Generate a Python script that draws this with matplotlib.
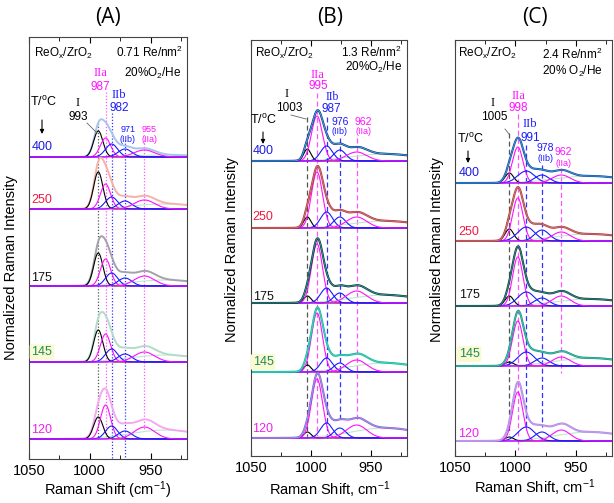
import numpy as np
import matplotlib.pyplot as plt
from matplotlib.ticker import MultipleLocator

plt.rcParams['font.family'] = ['Liberation Sans', 'DejaVu Sans']
plt.rcParams['mathtext.fontset'] = 'custom'
plt.rcParams['mathtext.rm'] = 'Liberation Sans'
plt.rcParams['mathtext.it'] = 'Liberation Sans:italic'

W, H = 614, 503

# temperatures (top to bottom)
temps = ['400', '250', '175', '145', '120']
temp_colors = ['#1c1ce0', '#f01840', '#111111', '#1f8a5a', '#f020f0']

# band order: I, IIa, IIb, IIb (2nd), IIa (2nd)
band_colors = ['#000000', '#ff10ff', '#1a1aff', '#1a1aff', '#ff10ff']
vline_colors = ['#555555', '#ff55ff', '#3333ff', '#3333ff', '#ff55ff']

# (A) 0.71 Re/nm2
a_pos = [993, 987, 982, 971, 955]
a_sig = [3.8, 4.2, 5.0, 5.6, 8.5]
a_I = [26, 37, 33, 32, 22]
a_IIa = [19, 25, 27, 28, 34]
a_IIb = [13, 12, 13, 13, 13]
a_IIb2 = [8, 8, 8, 8, 8]
a_IIa2 = [7, 9, 10, 10, 12]
a_bg = [2, 5, 6, 7, 9]

# (B) 1.3 Re/nm2
b_pos = [1003, 995, 987, 976, 962]
b_sig = [3.0, 4.6, 5.0, 5.0, 8.5]
b_I = [12, 11, 7, 7, 6]
b_IIa = [45, 56, 59, 59, 59]
b_IIb = [15, 16, 15, 14, 15]
b_IIb2 = [11, 11, 10, 9, 10]
b_IIa2 = [9, 11, 12, 12, 13]
b_bg = [7, 7, 8, 9, 10]

# (C) 2.4 Re/nm2
c_pos = [1005, 998, 991, 978, 962]
c_sig = [3.5, 4.3, 7.0, 6.0, 7.5]
c_I = [10, 12, 10, 4, 4]
c_IIa = [36, 43, 49, 45, 49]
c_IIb = [12, 14, 14, 14, 14]
c_IIb2 = [8, 11, 8, 8, 9]
c_IIa2 = [8, 9, 10, 9, 11]
c_bg = [7, 7, 7, 8, 9]

bg_pos, bg_sig = 938, 28

a_total_col = ['#a9c4ee', '#f5b3a8', '#a2a2ac', '#b2dcc8', '#f7a6f0']
b_data_col = ['#1c1c9a', '#e8161c', '#0e2a2a', '#17b39a', '#f025e8']
b_fit_col = ['#30b8c0', '#909090', '#2a9a9a', '#40d0c0', '#30d0d0']
c_data_col = ['#1f3cc0', '#e02020', '#163838', '#168f78', '#b48ae0']
c_fit_col = ['#30a0b0', '#909090', '#2a8a8a', '#40c0b0', '#c0a0f0']


def band(x, c, h, s):
    return h * np.exp(-0.5 * ((x - c) / s) ** 2)


def ftext(x, y, s, **kw):
    fig.text(x / W, 1 - y / H, s, ha=kw.pop('ha', 'center'), va='center', **kw)


x = np.linspace(920, 1050, 700)
fig = plt.figure(figsize=(W / 100, H / 100), dpi=100)

panels = [
    dict(box=(29, 37, 187, 459), pos=a_pos, sig=a_sig, h=[a_I, a_IIa, a_IIb, a_IIb2, a_IIa2], bg=a_bg,
         base=[157, 209, 286, 362, 439], tl=(42, [147, 200, 278, 352, 430]),
         vl=([123, 92, 113, 140, 140], [439, 439, 459, 459, 430]), ls=(0, (1, 1.5)),
         data=a_total_col, fit=None),
    dict(box=(251, 40, 407, 456), pos=b_pos, sig=b_sig, h=[b_I, b_IIa, b_IIb, b_IIb2, b_IIa2], bg=b_bg,
         base=[161, 228, 303, 372, 438], tl=(263, [151, 217, 297, 362, 429]),
         vl=([117, 93, 117, 138, 138], [438, 438, 438, 422, 422]), ls=(0, (4, 2.5)),
         data=b_data_col, fit=b_fit_col),
    dict(box=(455, 40, 612, 456), pos=c_pos, sig=c_sig, h=[c_I, c_IIa, c_IIb, c_IIb2, c_IIa2], bg=c_bg,
         base=[183, 241, 306, 366, 441], tl=(469, [173, 232, 295, 354, 434]),
         vl=([133, 114, 145, 165, 168], [434, 450, 430, 427, 373]), ls=(0, (4, 2.5)),
         data=c_data_col, fit=c_fit_col),
]

for p in panels:
    l, t, r, b = p['box']
    ax = fig.add_axes([l / W, 1 - b / H, (r - l) / W, (b - t) / H])
    ax.set_xlim(1050, 920)
    ax.set_ylim(b, t)  # image-pixel style vertical scale
    ax.set_yticks([])
    ax.xaxis.set_major_locator(MultipleLocator(50))
    ax.xaxis.set_minor_locator(MultipleLocator(25))
    ax.tick_params(axis='x', which='both', direction='in', top=True, labelsize=10.5)
    ax.tick_params(axis='x', which='major', length=4)
    ax.tick_params(axis='x', which='minor', length=3)
    for sp in ax.spines.values():
        sp.set_color('#444444')

    for c, top, bot, col in zip(p['pos'], p['vl'][0], p['vl'][1], vline_colors):
        ax.vlines(c, top, bot, colors=col, linestyles=[p['ls']], lw=0.9)

    for i in range(len(temps)):
        y0 = p['base'][i]
        comps = [band(x, c, hh[i], s) for c, hh, s in zip(p['pos'], p['h'], p['sig'])]
        bg = band(x, bg_pos, p['bg'][i], bg_sig)
        total = sum(comps) + bg
        ax.plot(x, y0 - bg, color='#bfe8cc', lw=0.8)
        if p['fit'] is None:
            ax.plot(x, y0 - total, color=p['data'][i], lw=1.4)
            for comp, col in zip(comps, band_colors):
                ax.plot(x, y0 - comp, color=col, lw=0.8)
        else:
            for comp, col in zip(comps, band_colors):
                ax.plot(x, y0 - comp, color=col, lw=0.8)
            ax.plot(x, y0 - total, color=p['data'][i], lw=1.5)
            ax.plot(x, y0 - total, color=p['fit'][i], lw=0.7)

    tx, tys = p['tl']
    for s, ty, col in zip(temps, tys, temp_colors):
        kw = {}
        if s == '145':
            kw['bbox'] = dict(boxstyle='round,pad=0.15', fc='#fafad2', ec='none')
        ftext(tx, ty, s, color=col, fontsize=9, **kw)

serif = ['Liberation Serif', 'DejaVu Serif']
mag, blu = '#ff10ff', '#1a1aff'

# panel titles and axis labels
for xt, s in [(108, '(A)'), (330, '(B)'), (535, '(C)')]:
    ftext(xt, 17, s, fontsize=15, family=['Open Sans', 'DejaVu Sans'])
ftext(108, 490, 'Raman Shift (cm$^{-1}$)', fontsize=10.5)
ftext(330, 490, 'Raman Shift, cm$^{-1}$', fontsize=10.5)
ftext(535, 488, 'Raman Shift, cm$^{-1}$', fontsize=10.5)
ftext(11, 268, 'Normalized Raman Intensity', fontsize=10.5, rotation=90)
ftext(232, 250, 'Normalized Raman Intensity', fontsize=10.5, rotation=90)
ftext(437, 250, 'Normalised Raman Intensity', fontsize=10.5, rotation=90)

# annotations (A)
ftext(34, 53, 'ReO$_{\\rm x}$/ZrO$_2$', fontsize=8.5, ha='left')
ftext(183, 52, '0.71 Re/nm$^2$', fontsize=8.5, ha='right')
ftext(181, 73, '20%O$_2$/He', fontsize=8.5, ha='right')
ftext(100, 73, 'IIa', color=mag, fontsize=9, family=serif)
ftext(100, 87, '987', color=mag, fontsize=8.5)
ftext(119, 95, 'IIb', color=blu, fontsize=9, family=serif)
ftext(119, 108, '982', color=blu, fontsize=8.5)
ftext(78, 103, 'I', fontsize=9, family=serif)
ftext(78, 117, '993', fontsize=8.5)
ftext(128, 129, '971', color=blu, fontsize=6.5)
ftext(128, 139, '(IIb)', color=blu, fontsize=6.5)
ftext(149, 129, '955', color=mag, fontsize=6.5)
ftext(149, 139, '(IIa)', color=mag, fontsize=6.5)
ftext(43, 102, 'T/$^{\\rm o}$C', fontsize=9)

# annotations (B)
ftext(255, 53, 'ReO$_{\\rm x}$/ZrO$_2$', fontsize=8.5, ha='left')
ftext(402, 52, '1.3 Re/nm$^2$', fontsize=8.5, ha='right')
ftext(402, 67, '20%O$_2$/He', fontsize=8.5, ha='right')
ftext(317, 75, 'IIa', color=mag, fontsize=9, family=serif)
ftext(318, 86, '995', color=mag, fontsize=8.5)
ftext(332, 97, 'IIb', color=blu, fontsize=8.5, family=serif)
ftext(331, 109, '987', color=blu, fontsize=8.5)
ftext(287, 94, 'I', fontsize=9, family=serif)
ftext(289, 108, '1003', fontsize=8.5)
ftext(340, 122, '976', color=blu, fontsize=7.5)
ftext(340, 132, '(IIb)', color=blu, fontsize=6.5)
ftext(363, 122, '962', color=mag, fontsize=7.5)
ftext(363, 132, '(IIa)', color=mag, fontsize=6.5)
ftext(263, 120, 'T/$^{\\rm o}$C', fontsize=9)

# annotations (C)
ftext(458, 53, 'ReO$_{\\rm x}$/ZrO$_2$', fontsize=8.5, ha='left')
ftext(603, 54, '2.4 Re/nm$^2$', fontsize=8.5, ha='right')
ftext(603, 71, '20% O$_2$/He', fontsize=8.5, ha='right')
ftext(518, 96, 'IIa', color=mag, fontsize=9, family=serif)
ftext(518, 108, '998', color=mag, fontsize=8.5)
ftext(530, 124, 'IIb', color=blu, fontsize=9, family=serif)
ftext(530, 138, '991', color=blu, fontsize=8.5)
ftext(493, 103, 'I', fontsize=9, family=serif)
ftext(494, 117, '1005', fontsize=8.5)
ftext(545, 148, '978', color=blu, fontsize=7.5)
ftext(545, 159, '(IIb)', color=blu, fontsize=6.5)
ftext(563, 152, '962', color=mag, fontsize=7.5)
ftext(563, 163, '(IIa)', color=mag, fontsize=6.5)
ftext(470, 139, 'T/$^{\\rm o}$C', fontsize=9)

# arrows under T/oC and leader lines to band I
for ax_x, y1, y2 in [(42, 120, 134), (263, 132, 144), (468, 151, 163)]:
    fig.add_artist(plt.Annotation('', xy=(ax_x / W, 1 - y2 / H), xytext=(ax_x / W, 1 - y1 / H),
                                  xycoords='figure fraction',
                                  arrowprops=dict(arrowstyle='-|>', color='k', lw=0.8, mutation_scale=6,
                                                  shrinkA=0, shrinkB=0)))
for (x1, y1), (x2, y2) in [((87, 123), (97, 133)), ((291, 115), (306, 119)), ((505, 129), (509, 134))]:
    fig.add_artist(plt.Line2D([x1 / W, x2 / W], [1 - y1 / H, 1 - y2 / H], color='#666666', lw=0.6))

fig.savefig('out.png', dpi=100)
